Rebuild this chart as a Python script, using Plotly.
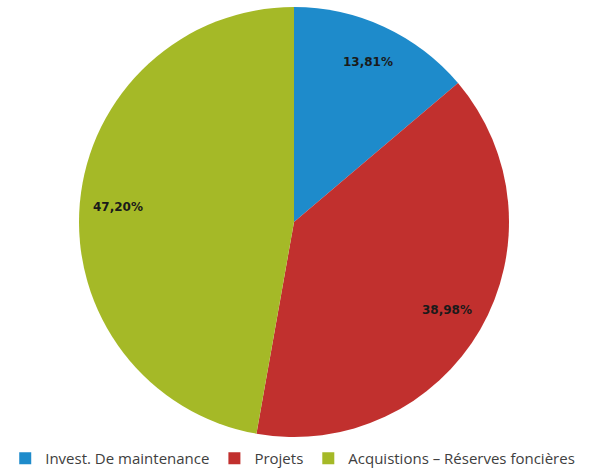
import math
import plotly.graph_objects as go

categories = ["Invest. De maintenance", "Projets", "Acquistions – Réserves foncières"]
values = [13.81, 38.98, 47.20]
text_labels = ["13,81%", "38,98%", "47,20%"]
colors = ["#1E8BCB", "#C1302E", "#A5B927"]

W, H = 589, 475
M_T = 7
AREA_H = H - M_T                 # plot area height (no bottom margin)
PIE_TOP, PIE_BOT = 7, 437        # pie vertical extent (px)
PIE_X0, PIE_X1 = 79, 509         # pie horizontal extent (px)
RADIUS = (PIE_X1 - PIE_X0) / 2   # 215 px
CX = (PIE_X0 + PIE_X1) / 2
CY = (PIE_TOP + PIE_BOT) / 2
LABEL_R = 0.82                   # data labels at this fraction of the radius

def px_to_paper_y(py):
    return (H - py) / AREA_H

fig = go.Figure(go.Pie(
    labels=categories,
    values=values,
    textinfo="none",
    marker=dict(colors=colors, line=dict(color="white", width=0)),
    sort=False,
    direction="clockwise",
    rotation=0,
    domain=dict(x=[PIE_X0 / W, PIE_X1 / W],
                y=[px_to_paper_y(PIE_BOT), px_to_paper_y(PIE_TOP)]),
    hoverinfo="label+percent",
))

total = sum(values)
cum = 0.0
for v, t in zip(values, text_labels):
    mid = (cum + v / 2) / total * 2 * math.pi
    cum += v
    dx = LABEL_R * RADIUS * math.sin(mid)
    dy = LABEL_R * RADIUS * math.cos(mid)
    fig.add_annotation(
        x=(CX + dx) / W, y=px_to_paper_y(CY - dy),
        xref="paper", yref="paper",
        text=t, showarrow=False,
        xanchor="center", yanchor="middle",
        font=dict(family="DejaVu Sans", size=12, color="#1a1a1a", weight="bold"),
    )

fig.update_layout(
    width=W, height=H,
    margin=dict(l=0, r=0, t=M_T, b=0),
    paper_bgcolor="white",
    plot_bgcolor="white",
    showlegend=True,
    legend=dict(
        orientation="h",
        x=0.497, xanchor="center",
        y=0, yanchor="bottom",
        font=dict(family="Open Sans", size=15, color="#404040"),
        itemwidth=30,
        traceorder="normal",
    ),
)

fig.write_html("out.html")
